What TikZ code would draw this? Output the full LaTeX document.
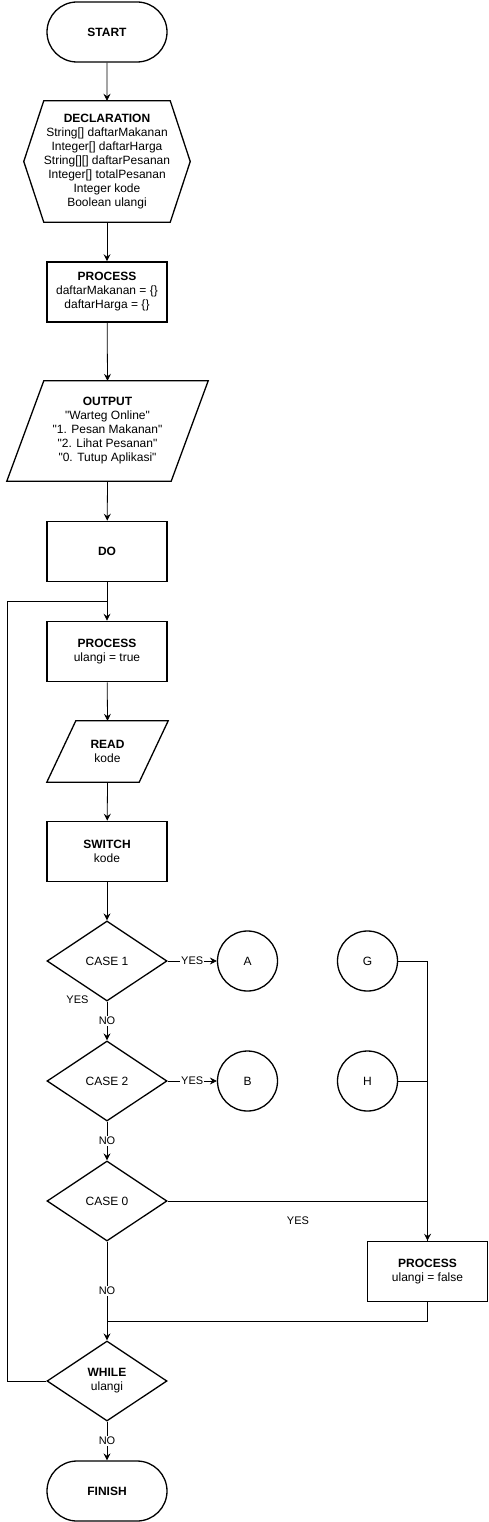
\documentclass[tikz,border=0pt]{standalone}
\usepackage{fontspec}
\setmainfont{Liberation Sans}[Ligatures=TeXOff]
\usetikzlibrary{shapes.geometric,shapes.misc,arrows.meta}
\begin{document}
\begin{tikzpicture}[x=1pt,y=-1pt,
  font=\fontsize{12}{14}\selectfont,
  term/.style={draw, line width=1.3pt, rounded rectangle, minimum width=120pt, minimum height=60pt, inner sep=0pt, font=\fontsize{12}{14}\selectfont\bfseries},
  proc/.style={draw, line width=1.6pt, rectangle, minimum width=120pt, minimum height=60pt, align=center, inner sep=0pt},
  plain/.style={rectangle, align=center, inner sep=0pt},
  dec/.style={draw, line width=1.3pt, diamond, minimum width=120pt, minimum height=80pt, aspect=1.5, inner sep=0pt, align=center},
  conn/.style={draw, line width=1.3pt, circle, minimum size=60pt, inner sep=0pt},
  shapeline/.style={line width=1.3pt, line join=miter},
  arr/.style={line width=0.8pt, -{Stealth[length=7pt,width=7pt,inset=2.5pt]}},
  ln/.style={line width=0.8pt},
  lbl/.style={fill=white, inner sep=1pt, font=\fontsize{11}{13}\selectfont}
]
\useasboundingbox (0,0) rectangle (489,1522);

\node[term] (start) at (107,32) {START};

\node[plain, minimum width=120pt, minimum height=121pt] (decl) at (107,161.5)
  {\textbf{DECLARATION}\\String[] daftarMakanan\\Integer[] daftarHarga\\String[][] daftarPesanan\\Integer[] totalPesanan\\Integer kode\\Boolean ulangi};
\draw[shapeline] (decl.north west) -- (decl.north east) -- ([xshift=20pt]decl.east) -- (decl.south east) -- (decl.south west) -- ([xshift=-20pt]decl.west) -- cycle;

\node[proc] (p1) at (107,292) {\textbf{PROCESS}\\daftarMakanan = \{\}\\daftarHarga = \{\}};

\node[plain, minimum width=201pt, minimum height=100pt] (out) at (107.5,431)
  {\textbf{OUTPUT}\\"Warteg Online"\\"1. Pesan Makanan"\\"2. Lihat Pesanan"\\"0. Tutup Aplikasi"};
\draw[shapeline] ([xshift=37pt]out.north west) -- (out.north east) -- ([xshift=-37pt]out.south east) -- (out.south west) -- cycle;

\node[proc] (do) at (107,551.5) {\textbf{DO}};

\node[proc] (p2) at (107,651.5) {\textbf{PROCESS}\\ulangi = true};

\node[plain, minimum width=121pt, minimum height=61pt] (read) at (107.5,751.5) {\textbf{READ}\\kode};
\draw[shapeline] ([xshift=29pt]read.north west) -- (read.north east) -- ([xshift=-29pt]read.south east) -- (read.south west) -- cycle;

\node[proc] (sw) at (107,851.5) {\textbf{SWITCH}\\kode};

\node[dec] (c1) at (107,961) {CASE 1};
\node[dec] (c2) at (107,1081) {CASE 2};
\node[dec] (c0) at (107,1201) {CASE 0};

\node[conn] (A) at (247.5,961) {A};
\node[conn] (B) at (247.5,1081) {B};
\node[conn] (G) at (367.5,961) {G};
\node[conn] (H) at (367.5,1081) {H};

\node[proc] (pf) at (427.5,1271.5) {\textbf{PROCESS}\\ulangi = false};

\node[dec] (wh) at (107,1381) {\textbf{WHILE}\\ulangi};

\node[term] (fin) at (107,1491) {FINISH};

\coordinate (j1) at (107,601);
\coordinate (l2) at (7,601);
\coordinate (l1) at (7,1381);
\coordinate (j2) at (107,1321);

\node[lbl] (yes1b) at (77.5,1000) {YES};
\node[lbl] (yes0) at (298,1221) {YES};

% connectors
\draw[arr] (start) -- (decl);
\draw[arr] (decl) -- (p1);
\draw[arr] (p1) -- (out.north);
\draw[arr] (out.south) -- (do);
\draw[arr] (do) -- (p2);
\draw[arr] (p2) -- (read.north);
\draw[arr] (read.south) -- (sw);
\draw[arr] (sw) -- (c1);
\draw[arr] (c1) -- node[lbl]{NO} (c2);
\draw[arr] (c2) -- node[lbl]{NO} (c0);
\draw[arr] (c1.east) -- node[lbl]{YES} (A.west);
\draw[arr] (c2.east) -- node[lbl]{YES} (B.west);
\draw[ln] (G.east) -| (pf.north);
\draw[ln] (H.east) -| (pf.north);
\draw[arr] (c0.east) -| (pf.north);
\draw[ln] (pf.south) |- (j2);
\draw[arr] (c0.south) -- node[lbl]{NO} (wh.north);
\draw[ln] (wh.west) -- (l1) -- (l2) -- (j1);
\draw[arr] (wh.south) -- node[lbl]{NO} (fin.north);
\end{tikzpicture}
\end{document}
